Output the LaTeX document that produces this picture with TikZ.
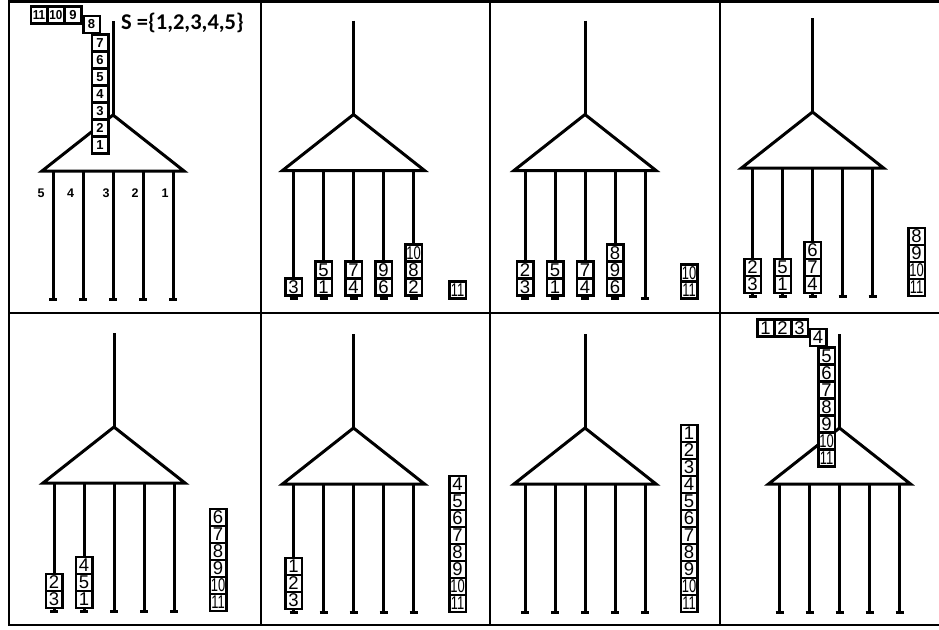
\documentclass[tikz,border=0pt]{standalone}
\usepackage{fontspec}
\usepackage{graphicx}
\setmainfont{Liberation Sans}
\newfontfamily\setfont{Carlito}

% two digit numbers are squeezed into the cells
\newcommand\sqx{0.7}
\newcommand\sq[1]{\ifnum#1>9 \scalebox{\sqx}[1]{#1}\else#1\fi}

\tikzset{
  frame/.style={line width=2.5pt},
  bar/.style={line width=3pt},
  cell/.style={draw, fill=white, line width=2.5pt, inner sep=0pt,
    minimum width=16.5pt, minimum height=17pt,
    font={\fontsize{18.5}{18.5}\selectfont\def\sqx{0.7}}},
  cellbold/.style={cell, font={\bfseries\fontsize{13}{13}\selectfont\def\sqx{0.9}}},
  legnum/.style={inner sep=0pt, font=\bfseries\fontsize{12.5}{12.5}\selectfont},
  % the sorter: stem, hopper and five legs with feet
  fork/.pic={
    \draw[bar] (0,-94) -- (0,0);
    \draw[bar] (0,0) -- (-71,56) -- (71,56) -- cycle;
    \foreach \k [evaluate=\k as \lx using 30*\k-90] in {1,...,5} {
      \draw[bar] (\lx,56) -- (\lx,184);
      \draw[bar] (\lx-4,184) -- (\lx+4,184);
      \coordinate (-l\k) at (\lx,184);
    }
    \coordinate (-side) at (104,187);
    \coordinate (-feed) at (-13,30);
  }
}

% cells piled up from a foot: #1 foot, #2 name prefix, #3 numbers bottom up
\newcommand\stackon[3]{%
  \foreach \n [count=\i] in {#3}
    \node[cell] (#2\n) at ([yshift={11.5pt+(\i-1)*17pt}]#1) {\sq{\n}};
}

% cells waiting in the hopper: #1 fork, #2 prefix, #3 style,
% #4 column bottom up, #5 bend cell, #6 top row right to left
\newcommand\feedstack[6]{%
  \foreach \n [count=\i] in {#4}
    \node[#3] (#2\n) at ([yshift={(\i-1)*17pt}]#1-feed) {\sq{\n}};
  \node[#3] (#2#5) at ([xshift=-8.5pt,yshift=120.5pt]#1-feed) {\sq{#5}};
  \foreach \n [count=\j] in {#6}
    \node[#3] (#2\n) at ([xshift={-27pt-(\j-1)*17pt},yshift=130pt]#1-feed) {\sq{\n}};
}

\begin{document}
\begin{tikzpicture}[x=1pt,y=-1pt]
  \useasboundingbox (0,0) rectangle (939,629);

  % table grid
  \draw[frame] (9,1.5) -- (939,1.5);
  \draw[frame] (9,313) -- (939,313);
  \draw[frame] (9,625) -- (939,625);
  \foreach \x in {9,261,490,720}
    \draw[frame] (\x,0.25) -- (\x,626.25);

  % the eight steps
  \pic (f1) at (113,115) {fork};
  \pic (f2) at (353.5,114.5) {fork};
  \pic (f3) at (585,114.5) {fork};
  \pic (f4) at (812.5,112) {fork};
  \pic (f5) at (114,427) {fork};
  \pic (f6) at (353.5,428) {fork};
  \pic (f7) at (585,428) {fork};
  \pic (f8) at (839.5,428) {fork};

  % step 1: input and leg numbers
  \feedstack{f1}{b1n}{cellbold}{1,2,3,4,5,6,7}{8}{9,10,11}
  \foreach \k/\t/\d in {1/5/-12,2/4/-12.5,3/3/-7,4/2/-8,5/1/-8}
    \node[legnum] (lab\k) at ([xshift=\d pt,yshift=106pt]f1-l\k) {\t};
  \node[anchor=base west, inner sep=0pt, font=\setfont\bfseries\fontsize{22.5}{22.5}\selectfont]
    (set) at (121,29) {S =\{1,2,3,4,5\}};

  % step 2
  \stackon{f2-l1}{b2n}{3}
  \stackon{f2-l2}{b2n}{1,5}
  \stackon{f2-l3}{b2n}{4,7}
  \stackon{f2-l4}{b2n}{6,9}
  \stackon{f2-l5}{b2n}{2,8,10}
  \stackon{f2-side}{b2n}{11}

  % step 3
  \stackon{f3-l1}{b3n}{3,2}
  \stackon{f3-l2}{b3n}{1,5}
  \stackon{f3-l3}{b3n}{4,7}
  \stackon{f3-l4}{b3n}{6,9,8}
  \stackon{f3-side}{b3n}{11,10}

  % step 4
  \stackon{f4-l1}{b4n}{3,2}
  \stackon{f4-l2}{b4n}{1,5}
  \stackon{f4-l3}{b4n}{4,7,6}
  \stackon{f4-side}{b4n}{11,10,9,8}

  % step 5
  \stackon{f5-l1}{b5n}{3,2}
  \stackon{f5-l2}{b5n}{1,5,4}
  \stackon{f5-side}{b5n}{11,10,9,8,7,6}

  % step 6
  \stackon{f6-l1}{b6n}{3,2,1}
  \stackon{f6-side}{b6n}{11,10,9,8,7,6,5,4}

  % step 7
  \stackon{f7-side}{b7n}{11,10,9,8,7,6,5,4,3,2,1}

  % step 8: back into the hopper
  \feedstack{f8}{b8n}{cell}{11,10,9,8,7,6,5}{4}{3,2,1}
\end{tikzpicture}
\end{document}
